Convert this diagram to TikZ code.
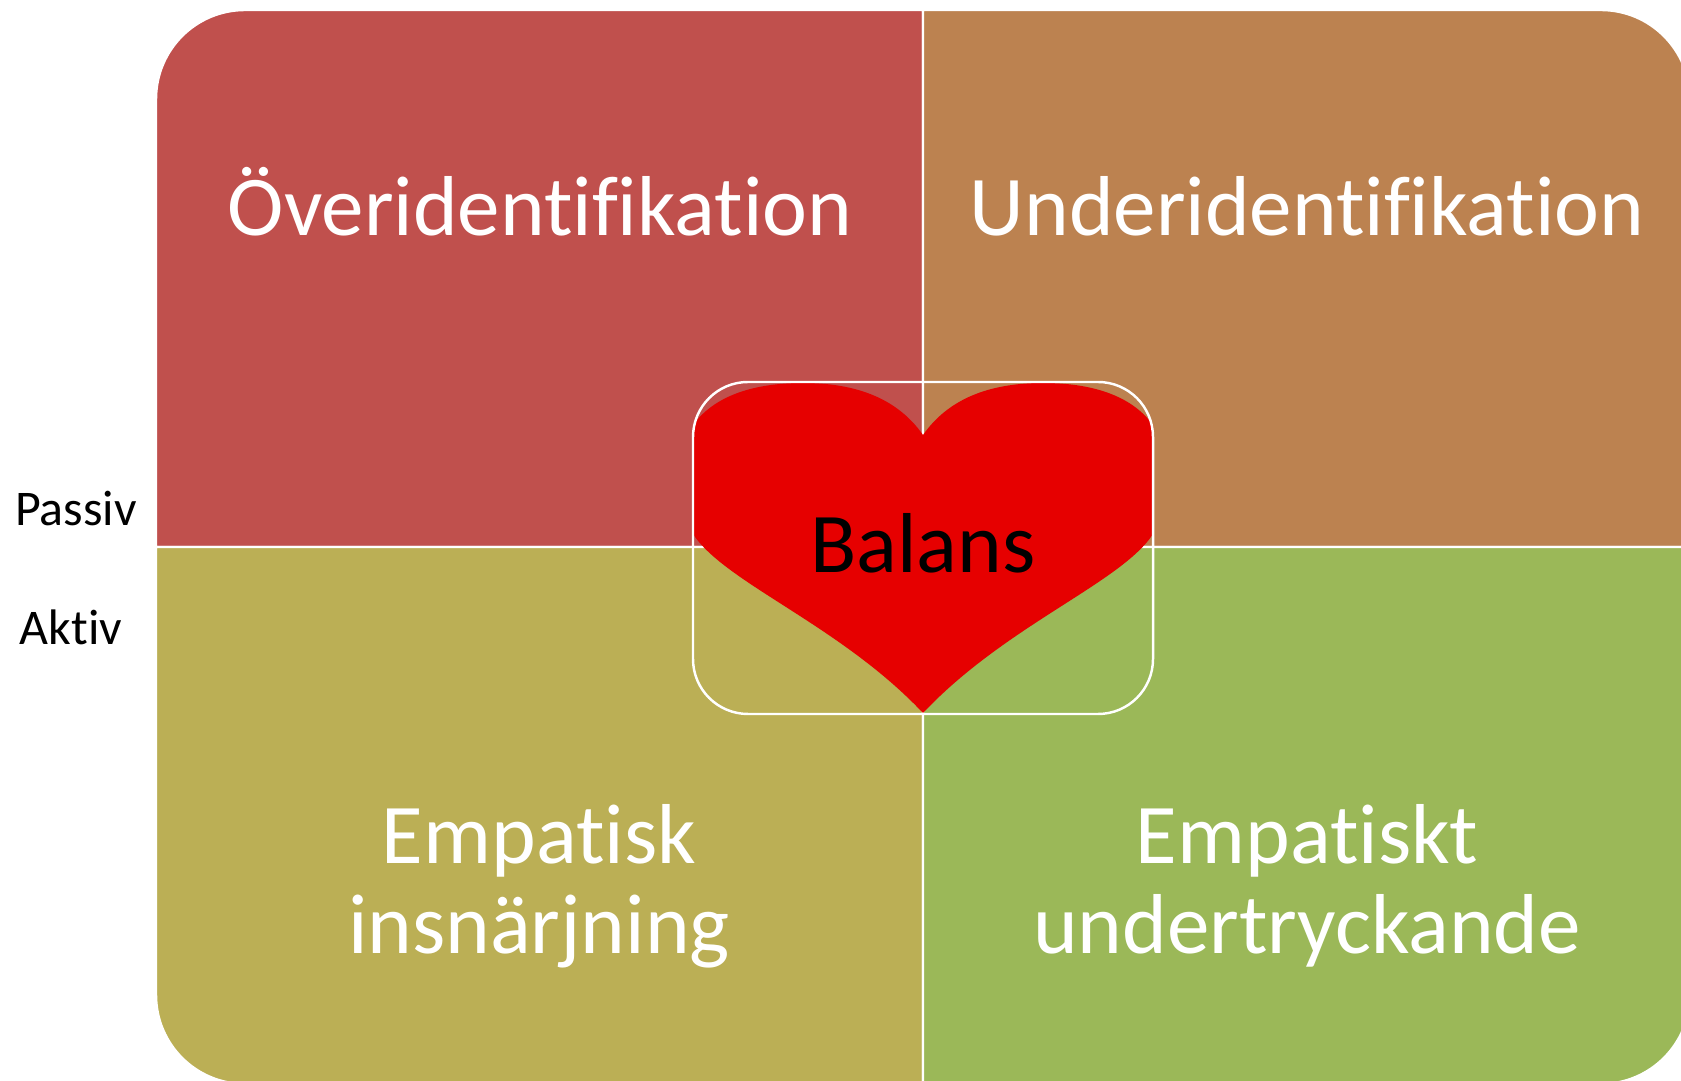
\documentclass[tikz,border=0pt]{standalone}
\usepackage{fontspec}
\setmainfont[Ligatures=NoCommon]{Carlito}
\definecolor{redfield}{HTML}{C0504D}
\definecolor{brownfield}{HTML}{BC8250}
\definecolor{olivefield}{HTML}{BBAF55}
\definecolor{greenfield}{HTML}{9BB858}
\definecolor{heartred}{HTML}{E60000}
\tikzset{
    field/.style={draw=white, line width=0.7pt},
    fieldtext/.style={text=white, font=\fontsize{24.2}{25.6}\selectfont, align=center},
    sidetext/.style={text=black, font=\fontsize{14.2}{16}\selectfont, anchor=base},
}

\begin{document}
\begin{tikzpicture}

    % the page, the fields run over its right and lower edge:
    \clip (0,0) rectangle (16.81,10.8);

    % the four fields with one rounded outer corner each:
    \path[field, fill=redfield] (9.23,5.33) -- (1.56,5.33) -- (1.56,9.81) arc[start angle=180, end angle=90, radius=0.89] -- (9.23,10.70) -- cycle;
    \path[field, fill=brownfield] (9.23,5.33) -- (9.23,10.70) -- (16.01,10.70) arc[start angle=90, end angle=0, radius=0.89] -- (16.90,5.33) -- cycle;
    \path[field, fill=olivefield] (9.23,5.33) -- (1.56,5.33) -- (1.56,0.85) arc[start angle=180, end angle=270, radius=0.89] -- (9.23,-0.04) -- cycle;
    \path[field, fill=greenfield] (9.23,5.33) -- (9.23,-0.04) -- (16.01,-0.04) arc[start angle=270, end angle=360, radius=0.89] -- (16.90,5.33) -- cycle;

    % the heart in the middle:
    \fill[heartred] (9.23,6.45) .. controls (8.95,6.85) and (8.50,6.97) .. (8.03,6.97)
        .. controls (7.55,6.97) and (7.15,6.85) .. (6.93,6.55) -- (6.93,5.46)
        .. controls (7.25,4.97) and (8.40,4.55) .. (9.23,3.67)
        .. controls (10.06,4.55) and (11.21,4.97) .. (11.53,5.46) -- (11.53,6.55)
        .. controls (11.31,6.85) and (10.91,6.97) .. (10.43,6.97)
        .. controls (9.96,6.97) and (9.51,6.85) .. (9.23,6.45) -- cycle;

    % white frame round the heart:
    \draw[white, line width=0.7pt, rounded corners=0.55cm] (6.93,3.66) rectangle (11.53,6.98);

    % the labels:
    \node[fieldtext, anchor=base] (over) at (5.40,8.44) {Överidentifikation};
    \node[fieldtext, anchor=base] (under) at (13.07,8.44) {Underidentifikation};
    \node[fieldtext] (insnar) at (5.39,1.94) {Empatisk\\insnärjning};
    \node[fieldtext] (undertryck) at (13.07,1.94) {Empatiskt\\undertryckande};
    \node[text=black, font=\fontsize{24.2}{28}\selectfont, anchor=base] (balans) at (9.23,5.07) {Balans};

    % passive and active beside the fields:
    \node[sidetext] (passiv) at (0.76,5.54) {Passiv};
    \node[sidetext] (aktiv) at (0.71,4.35) {Aktiv};

\end{tikzpicture}
\end{document}
